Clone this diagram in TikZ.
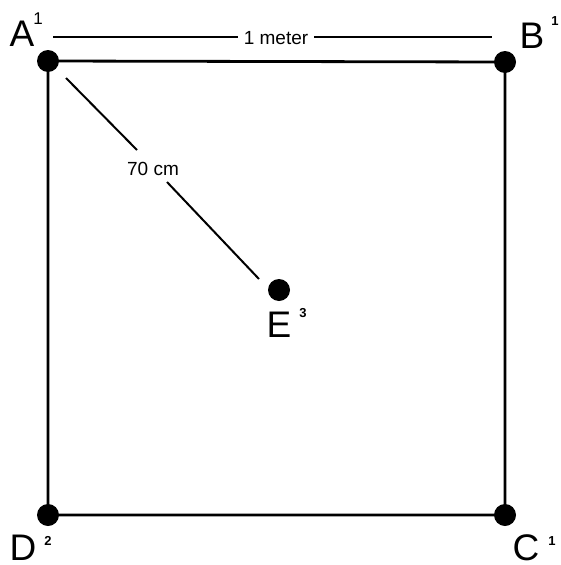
\documentclass[tikz,border=0pt]{standalone}
\usepackage{fontspec}
\setmainfont{Liberation Sans}
\begin{document}
\begin{tikzpicture}[x=1pt,y=-1pt,
  dot/.style={circle,fill=black,inner sep=0pt,minimum size=22pt},
  side/.style={line width=2.8pt},
  thin/.style={line width=2pt},
  lbl/.style={font=\fontsize{37}{37}\selectfont,inner sep=0pt,text height=27pt,text depth=0pt},
  sup/.style={font=\fontsize{13}{13}\selectfont\bfseries,inner sep=0pt},
  supbig/.style={font=\fontsize{17}{17}\selectfont,inner sep=0pt},
  dim/.style={font=\fontsize{19}{19}\selectfont,inner sep=0pt}]
\useasboundingbox (0,0) rectangle (561,565);
\node[dot] (A) at (48,61) {};
\node[dot] (B) at (505,62) {};
\node[dot] (C) at (505,515) {};
\node[dot] (D) at (48,515) {};
\node[dot] (E) at (279,290) {};
\draw[side] (A.center) -- (B.center) -- (C.center) -- (D.center) -- cycle;
% dimension line
\node[dim] (m) at (276,38) {1 meter};
\coordinate (m1) at (53,37);
\coordinate (m2) at (492,37);
\draw[thin] (m1) -- ([xshift=-6pt]m.west |- m1);
\draw[thin] ([xshift=6pt]m.east |- m2) -- (m2);
% diagonal
\node[dim] (d) at (153,169) {70 cm};
\coordinate (d1) at (66,78);
\coordinate (d2) at (137,150);
\coordinate (d3) at (167,182);
\coordinate (d4) at (259,279);
\draw[thin] (d1) -- (d2);
\draw[thin] (d3) -- (d4);
% labels
\node[lbl] (la) at (22,33) {A};
\node[supbig] (sa) at (38,19) {1};
\node[lbl] (lb) at (532,35) {B};
\node[sup] (sb) at (555,21) {1};
\node[lbl] (lc) at (526,547) {C};
\node[sup] (sc) at (552,541) {1};
\node[lbl] (ld) at (23,547) {D};
\node[sup] (sd) at (48,541) {2};
\node[lbl] (le) at (279,324) {E};
\node[sup] (se) at (303,313) {3};
\end{tikzpicture}
\end{document}
